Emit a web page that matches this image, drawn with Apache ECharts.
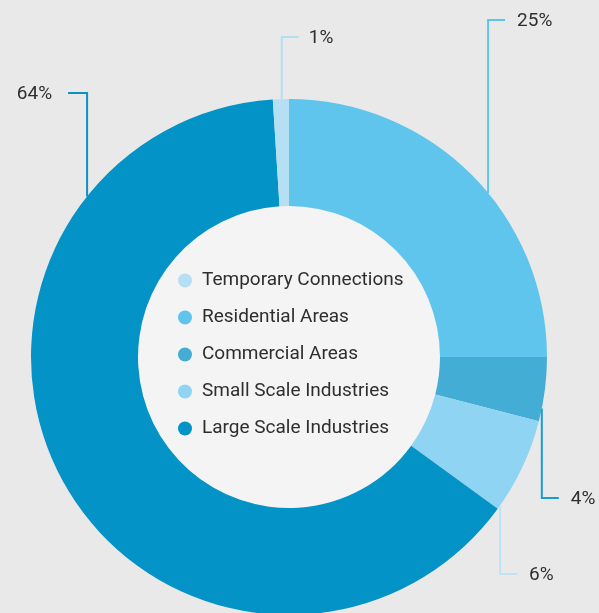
<!DOCTYPE html>
<html>
<head>
<meta charset="utf-8">
<script src="https://cdn.jsdelivr.net/npm/echarts@6/dist/echarts.min.js"></script>
<style>
  html, body { margin: 0; padding: 0; background: #e9e9e9; }
  #chart { width: 599px; height: 613px; }
</style>
</head>
<body>
<div id="chart"></div>
<script>
// Share of connections by consumer category (percent)
const categories = [
  'Temporary Connections',
  'Residential Areas',
  'Commercial Areas',
  'Small Scale Industries',
  'Large Scale Industries'
];
const shares = [1, 25, 4, 6, 64];

// Ring is drawn clockwise from 12 o'clock in this order
const ringOrder = [
  'Residential Areas',
  'Commercial Areas',
  'Small Scale Industries',
  'Large Scale Industries',
  'Temporary Connections'
];

const palette = {
  'Temporary Connections': '#b5e0f4',
  'Residential Areas': '#5fc5ed',
  'Commercial Areas': '#43add6',
  'Small Scale Industries': '#8fd4f2',
  'Large Scale Industries': '#0393c6'
};
const leaderColors = {
  'Temporary Connections': '#b3dff3',
  'Residential Areas': '#5ec4ec',
  'Commercial Areas': '#179dd6',
  'Small Scale Industries': '#bde3f5',
  'Large Scale Industries': '#0a93c6'
};

// Geometry of the ring (px)
const CX = 289, CY = 357, R_IN = 151, R_OUT = 258;

// Elbow leaders: start angle on the outer edge (deg, counter-clockwise from 3 o'clock),
// row of the label, side the label sits on, tick length and gap before the text
const leaders = {
  'Temporary Connections': { angle: 91.6, row: 37, side: 1, tick: 17, gap: 10 },
  'Residential Areas': { angle: 39.5, row: 20, side: 1, tick: 17, gap: 12 },
  'Commercial Areas': { angle: -11.5, row: 498, side: 1, tick: 17, gap: 12 },
  'Small Scale Industries': { angle: -35.1, row: 574, side: 1, tick: 17, gap: 12 },
  'Large Scale Industries': { angle: 141.5, row: 93, side: -1, tick: 19, gap: 16 }
};

const ringData = ringOrder.map(function (name) {
  return {
    name: name,
    value: shares[categories.indexOf(name)],
    itemStyle: { color: palette[name] },
    labelLine: { lineStyle: { color: leaderColors[name], width: 2 } }
  };
});

const chart = echarts.init(document.getElementById('chart'), null, { renderer: 'canvas' });

chart.setOption({
  backgroundColor: '#e9e9e9',
  animation: false,
  legend: {
    data: categories,
    orient: 'vertical',
    left: 173,
    top: 266,
    icon: 'circle',
    itemWidth: 14,
    itemHeight: 14,
    itemGap: 18,
    selectedMode: false,
    textStyle: {
      fontFamily: 'Roboto',
      fontSize: 19,
      lineHeight: 19,
      color: '#2e2e2e',
      padding: [0, 0, 0, 5]
    }
  },
  series: [
    {
      // inner disc behind the legend
      type: 'pie',
      center: [CX, CY],
      radius: [0, R_IN],
      silent: true,
      label: { show: false },
      labelLine: { show: false },
      data: [{ value: 1, name: '', itemStyle: { color: '#f4f4f4' } }],
      legendHoverLink: false
    },
    {
      type: 'pie',
      center: [CX, CY],
      radius: [R_IN, R_OUT],
      startAngle: 90,
      clockwise: true,
      avoidLabelOverlap: false,
      label: {
        show: true,
        position: 'outside',
        formatter: '{c}%',
        fontFamily: 'Roboto',
        fontSize: 19,
        color: '#2e2e2e'
      },
      labelLine: { show: true, length: 10, length2: 10 },
      labelLayout: function (params) {
        const name = ringOrder[params.dataIndex];
        const l = leaders[name];
        const a = l.angle * Math.PI / 180;
        const sx = CX + R_OUT * Math.cos(a);
        const sy = CY - R_OUT * Math.sin(a);
        const ex = sx + l.side * l.tick;
        return {
          x: ex + l.side * l.gap,
          y: l.row + 1,
          align: l.side > 0 ? 'left' : 'right',
          verticalAlign: 'middle',
          labelLinePoints: [[sx, sy], [sx, l.row], [ex, l.row]]
        };
      },
      data: ringData
    }
  ]
});
</script>
</body>
</html>
